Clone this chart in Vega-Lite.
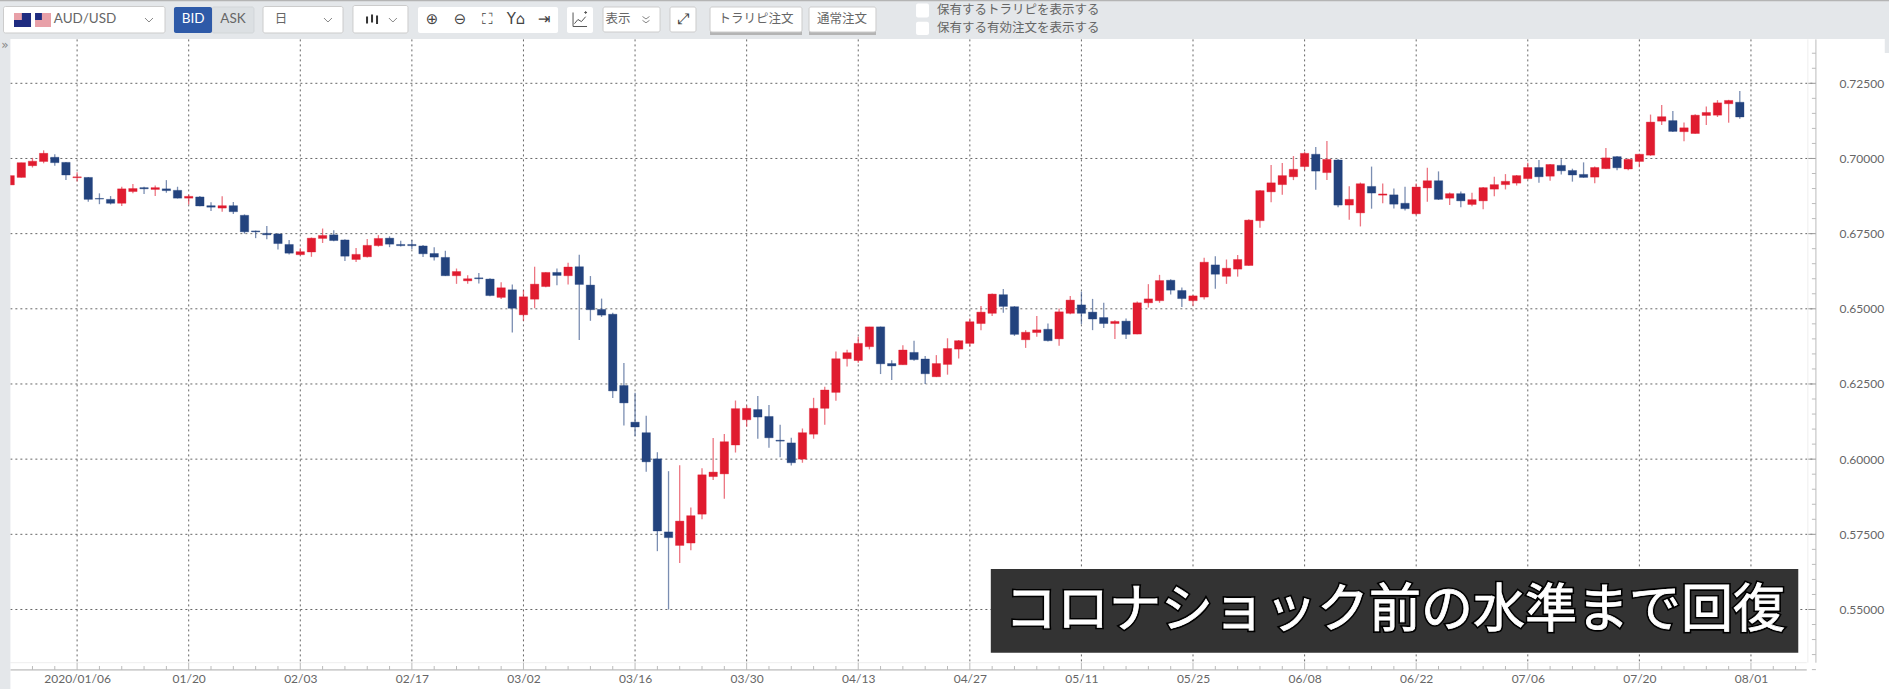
{"$schema":"https://vega.github.io/schema/vega-lite/v6.json","width":1889,"height":689,"autosize":"none","padding":0,"background":"white","config":{"view":{"stroke":null}},
"datasets":{"candles":[
{"day":0,"date":"2019-12-27","o":0.6912,"h":0.6943,"l":0.6912,"c":0.6943},{"day":1,"date":"2019-12-30","o":0.6937,"h":0.6986,"l":0.6937,"c":0.6986},{"day":2,"date":"2019-12-31","o":0.6976,"h":0.7002,"l":0.6970,"c":0.6991},{"day":3,"date":"2020-01-01","o":0.6990,"h":0.7027,"l":0.6984,"c":0.7017},{"day":4,"date":"2020-01-02","o":0.7004,"h":0.7014,"l":0.6976,"c":0.6986},
{"day":5,"date":"2020-01-03","o":0.6987,"h":0.6988,"l":0.6928,"c":0.6945},{"day":6,"date":"2020-01-06","o":0.6936,"h":0.6954,"l":0.6923,"c":0.6939},{"day":7,"date":"2020-01-07","o":0.6937,"h":0.6938,"l":0.6856,"c":0.6864},{"day":8,"date":"2020-01-08","o":0.6867,"h":0.6884,"l":0.6848,"c":0.6865},{"day":9,"date":"2020-01-09","o":0.6864,"h":0.6875,"l":0.6847,"c":0.6851},
{"day":10,"date":"2020-01-10","o":0.6851,"h":0.6906,"l":0.6842,"c":0.6899},{"day":11,"date":"2020-01-13","o":0.6890,"h":0.6915,"l":0.6884,"c":0.6900},{"day":12,"date":"2020-01-14","o":0.6903,"h":0.6906,"l":0.6882,"c":0.6899},{"day":13,"date":"2020-01-15","o":0.6897,"h":0.6910,"l":0.6875,"c":0.6903},{"day":14,"date":"2020-01-16","o":0.6899,"h":0.6928,"l":0.6886,"c":0.6893},
{"day":15,"date":"2020-01-17","o":0.6894,"h":0.6906,"l":0.6867,"c":0.6868},{"day":16,"date":"2020-01-20","o":0.6868,"h":0.6880,"l":0.6847,"c":0.6874},{"day":17,"date":"2020-01-21","o":0.6872,"h":0.6875,"l":0.6841,"c":0.6842},{"day":18,"date":"2020-01-22","o":0.6843,"h":0.6854,"l":0.6825,"c":0.6838},{"day":19,"date":"2020-01-23","o":0.6835,"h":0.6874,"l":0.6823,"c":0.6843},
{"day":20,"date":"2020-01-24","o":0.6843,"h":0.6855,"l":0.6815,"c":0.6823},{"day":21,"date":"2020-01-27","o":0.6811,"h":0.6814,"l":0.6750,"c":0.6756},{"day":22,"date":"2020-01-28","o":0.6759,"h":0.6760,"l":0.6735,"c":0.6756},{"day":23,"date":"2020-01-29","o":0.6751,"h":0.6775,"l":0.6731,"c":0.6746},{"day":24,"date":"2020-01-30","o":0.6749,"h":0.6751,"l":0.6697,"c":0.6717},
{"day":25,"date":"2020-01-31","o":0.6714,"h":0.6729,"l":0.6681,"c":0.6685},{"day":26,"date":"2020-02-03","o":0.6680,"h":0.6701,"l":0.6678,"c":0.6690},{"day":27,"date":"2020-02-04","o":0.6689,"h":0.6737,"l":0.6673,"c":0.6735},{"day":28,"date":"2020-02-05","o":0.6734,"h":0.6767,"l":0.6719,"c":0.6744},{"day":29,"date":"2020-02-06","o":0.6746,"h":0.6761,"l":0.6725,"c":0.6727},
{"day":30,"date":"2020-02-07","o":0.6729,"h":0.6731,"l":0.6659,"c":0.6675},{"day":31,"date":"2020-02-10","o":0.6664,"h":0.6702,"l":0.6656,"c":0.6681},{"day":32,"date":"2020-02-11","o":0.6673,"h":0.6732,"l":0.6671,"c":0.6711},{"day":33,"date":"2020-02-12","o":0.6710,"h":0.6745,"l":0.6707,"c":0.6734},{"day":34,"date":"2020-02-13","o":0.6735,"h":0.6741,"l":0.6705,"c":0.6715},
{"day":35,"date":"2020-02-14","o":0.6714,"h":0.6726,"l":0.6707,"c":0.6710},{"day":36,"date":"2020-02-17","o":0.6714,"h":0.6729,"l":0.6699,"c":0.6710},{"day":37,"date":"2020-02-18","o":0.6709,"h":0.6712,"l":0.6672,"c":0.6683},{"day":38,"date":"2020-02-19","o":0.6684,"h":0.6705,"l":0.6661,"c":0.6672},{"day":39,"date":"2020-02-20","o":0.6671,"h":0.6693,"l":0.6609,"c":0.6610},
{"day":40,"date":"2020-02-21","o":0.6610,"h":0.6634,"l":0.6583,"c":0.6624},{"day":41,"date":"2020-02-24","o":0.6593,"h":0.6612,"l":0.6583,"c":0.6600},{"day":42,"date":"2020-02-25","o":0.6603,"h":0.6619,"l":0.6584,"c":0.6600},{"day":43,"date":"2020-02-26","o":0.6599,"h":0.6602,"l":0.6542,"c":0.6544},{"day":44,"date":"2020-02-27","o":0.6538,"h":0.6588,"l":0.6533,"c":0.6570},
{"day":45,"date":"2020-02-28","o":0.6563,"h":0.6581,"l":0.6421,"c":0.6502},{"day":46,"date":"2020-03-02","o":0.6480,"h":0.6562,"l":0.6460,"c":0.6540},{"day":47,"date":"2020-03-03","o":0.6532,"h":0.6640,"l":0.6502,"c":0.6582},{"day":48,"date":"2020-03-04","o":0.6574,"h":0.6622,"l":0.6572,"c":0.6621},{"day":49,"date":"2020-03-05","o":0.6621,"h":0.6634,"l":0.6578,"c":0.6611},
{"day":50,"date":"2020-03-06","o":0.6610,"h":0.6653,"l":0.6581,"c":0.6639},{"day":51,"date":"2020-03-09","o":0.6640,"h":0.6680,"l":0.6396,"c":0.6581},{"day":52,"date":"2020-03-10","o":0.6579,"h":0.6609,"l":0.6460,"c":0.6497},{"day":53,"date":"2020-03-11","o":0.6498,"h":0.6534,"l":0.6473,"c":0.6479},{"day":54,"date":"2020-03-12","o":0.6482,"h":0.6487,"l":0.6203,"c":0.6227},
{"day":55,"date":"2020-03-13","o":0.6245,"h":0.6320,"l":0.6112,"c":0.6187},{"day":56,"date":"2020-03-16","o":0.6123,"h":0.6221,"l":0.6076,"c":0.6107},{"day":57,"date":"2020-03-17","o":0.6088,"h":0.6144,"l":0.5958,"c":0.5991},{"day":58,"date":"2020-03-18","o":0.6001,"h":0.6023,"l":0.5694,"c":0.5761},{"day":59,"date":"2020-03-19","o":0.5758,"h":0.5960,"l":0.5500,"c":0.5739},
{"day":60,"date":"2020-03-20","o":0.5713,"h":0.5980,"l":0.5655,"c":0.5794},{"day":61,"date":"2020-03-23","o":0.5721,"h":0.5839,"l":0.5697,"c":0.5812},{"day":62,"date":"2020-03-24","o":0.5817,"h":0.5970,"l":0.5800,"c":0.5948},{"day":63,"date":"2020-03-25","o":0.5942,"h":0.6070,"l":0.5931,"c":0.5957},{"day":64,"date":"2020-03-26","o":0.5951,"h":0.6084,"l":0.5868,"c":0.6058},
{"day":65,"date":"2020-03-27","o":0.6047,"h":0.6195,"l":0.6022,"c":0.6168},{"day":66,"date":"2020-03-30","o":0.6131,"h":0.6178,"l":0.6108,"c":0.6169},{"day":67,"date":"2020-03-31","o":0.6165,"h":0.6210,"l":0.6068,"c":0.6140},{"day":68,"date":"2020-04-01","o":0.6142,"h":0.6180,"l":0.6038,"c":0.6071},{"day":69,"date":"2020-04-02","o":0.6063,"h":0.6114,"l":0.6006,"c":0.6060},
{"day":70,"date":"2020-04-03","o":0.6054,"h":0.6071,"l":0.5979,"c":0.5988},{"day":71,"date":"2020-04-06","o":0.6000,"h":0.6102,"l":0.5988,"c":0.6088},{"day":72,"date":"2020-04-07","o":0.6083,"h":0.6204,"l":0.6068,"c":0.6169},{"day":73,"date":"2020-04-08","o":0.6169,"h":0.6241,"l":0.6114,"c":0.6230},{"day":74,"date":"2020-04-09","o":0.6222,"h":0.6358,"l":0.6194,"c":0.6334},
{"day":75,"date":"2020-04-10","o":0.6334,"h":0.6364,"l":0.6308,"c":0.6354},{"day":76,"date":"2020-04-13","o":0.6328,"h":0.6407,"l":0.6321,"c":0.6385},{"day":77,"date":"2020-04-14","o":0.6374,"h":0.6440,"l":0.6365,"c":0.6440},{"day":78,"date":"2020-04-15","o":0.6440,"h":0.6441,"l":0.6283,"c":0.6317},{"day":79,"date":"2020-04-16","o":0.6318,"h":0.6329,"l":0.6263,"c":0.6310},
{"day":80,"date":"2020-04-17","o":0.6314,"h":0.6379,"l":0.6314,"c":0.6363},{"day":81,"date":"2020-04-20","o":0.6355,"h":0.6394,"l":0.6327,"c":0.6331},{"day":82,"date":"2020-04-21","o":0.6333,"h":0.6343,"l":0.6250,"c":0.6284},{"day":83,"date":"2020-04-22","o":0.6274,"h":0.6346,"l":0.6273,"c":0.6318},{"day":84,"date":"2020-04-23","o":0.6315,"h":0.6402,"l":0.6281,"c":0.6368},
{"day":85,"date":"2020-04-24","o":0.6366,"h":0.6396,"l":0.6335,"c":0.6394},{"day":86,"date":"2020-04-27","o":0.6385,"h":0.6468,"l":0.6374,"c":0.6457},{"day":87,"date":"2020-04-28","o":0.6451,"h":0.6509,"l":0.6429,"c":0.6489},{"day":88,"date":"2020-04-29","o":0.6485,"h":0.6551,"l":0.6476,"c":0.6549},{"day":89,"date":"2020-04-30","o":0.6547,"h":0.6566,"l":0.6487,"c":0.6508},
{"day":90,"date":"2020-05-01","o":0.6507,"h":0.6509,"l":0.6410,"c":0.6415},{"day":91,"date":"2020-05-04","o":0.6397,"h":0.6429,"l":0.6370,"c":0.6422},{"day":92,"date":"2020-05-05","o":0.6421,"h":0.6476,"l":0.6407,"c":0.6430},{"day":93,"date":"2020-05-06","o":0.6432,"h":0.6451,"l":0.6391,"c":0.6394},{"day":94,"date":"2020-05-07","o":0.6400,"h":0.6501,"l":0.6377,"c":0.6490},
{"day":95,"date":"2020-05-08","o":0.6485,"h":0.6543,"l":0.6482,"c":0.6529},{"day":96,"date":"2020-05-11","o":0.6513,"h":0.6557,"l":0.6449,"c":0.6485},{"day":97,"date":"2020-05-12","o":0.6489,"h":0.6533,"l":0.6429,"c":0.6466},{"day":98,"date":"2020-05-13","o":0.6471,"h":0.6520,"l":0.6436,"c":0.6451},{"day":99,"date":"2020-05-14","o":0.6451,"h":0.6462,"l":0.6400,"c":0.6458},
{"day":100,"date":"2020-05-15","o":0.6459,"h":0.6468,"l":0.6400,"c":0.6415},{"day":101,"date":"2020-05-18","o":0.6416,"h":0.6524,"l":0.6415,"c":0.6520},{"day":102,"date":"2020-05-19","o":0.6520,"h":0.6582,"l":0.6504,"c":0.6533},{"day":103,"date":"2020-05-20","o":0.6527,"h":0.6613,"l":0.6520,"c":0.6594},{"day":104,"date":"2020-05-21","o":0.6595,"h":0.6598,"l":0.6548,"c":0.6562},
{"day":105,"date":"2020-05-22","o":0.6561,"h":0.6571,"l":0.6506,"c":0.6534},{"day":106,"date":"2020-05-25","o":0.6527,"h":0.6546,"l":0.6510,"c":0.6543},{"day":107,"date":"2020-05-26","o":0.6539,"h":0.6670,"l":0.6531,"c":0.6655},{"day":108,"date":"2020-05-27","o":0.6646,"h":0.6675,"l":0.6567,"c":0.6615},{"day":109,"date":"2020-05-28","o":0.6608,"h":0.6664,"l":0.6583,"c":0.6635},
{"day":110,"date":"2020-05-29","o":0.6632,"h":0.6679,"l":0.6607,"c":0.6664},{"day":111,"date":"2020-06-01","o":0.6644,"h":0.6798,"l":0.6643,"c":0.6795},{"day":112,"date":"2020-06-02","o":0.6793,"h":0.6895,"l":0.6770,"c":0.6893},{"day":113,"date":"2020-06-03","o":0.6889,"h":0.6978,"l":0.6854,"c":0.6919},{"day":114,"date":"2020-06-04","o":0.6913,"h":0.6985,"l":0.6879,"c":0.6943},
{"day":115,"date":"2020-06-05","o":0.6939,"h":0.7008,"l":0.6928,"c":0.6964},{"day":116,"date":"2020-06-08","o":0.6973,"h":0.7022,"l":0.6961,"c":0.7017},{"day":117,"date":"2020-06-09","o":0.7014,"h":0.7038,"l":0.6896,"c":0.6958},{"day":118,"date":"2020-06-10","o":0.6953,"h":0.7058,"l":0.6928,"c":0.6997},{"day":119,"date":"2020-06-11","o":0.6995,"h":0.6998,"l":0.6838,"c":0.6845},
{"day":120,"date":"2020-06-12","o":0.6845,"h":0.6908,"l":0.6796,"c":0.6864},{"day":121,"date":"2020-06-15","o":0.6819,"h":0.6920,"l":0.6774,"c":0.6916},{"day":122,"date":"2020-06-16","o":0.6907,"h":0.6973,"l":0.6833,"c":0.6885},{"day":123,"date":"2020-06-17","o":0.6878,"h":0.6917,"l":0.6851,"c":0.6882},{"day":124,"date":"2020-06-18","o":0.6879,"h":0.6900,"l":0.6834,"c":0.6848},
{"day":125,"date":"2020-06-19","o":0.6851,"h":0.6906,"l":0.6827,"c":0.6833},{"day":126,"date":"2020-06-22","o":0.6816,"h":0.6917,"l":0.6812,"c":0.6905},{"day":127,"date":"2020-06-23","o":0.6902,"h":0.6969,"l":0.6856,"c":0.6926},{"day":128,"date":"2020-06-24","o":0.6926,"h":0.6957,"l":0.6862,"c":0.6864},{"day":129,"date":"2020-06-25","o":0.6868,"h":0.6887,"l":0.6845,"c":0.6883},
{"day":130,"date":"2020-06-26","o":0.6883,"h":0.6890,"l":0.6838,"c":0.6859},{"day":131,"date":"2020-06-29","o":0.6847,"h":0.6886,"l":0.6841,"c":0.6863},{"day":132,"date":"2020-06-30","o":0.6859,"h":0.6905,"l":0.6831,"c":0.6903},{"day":133,"date":"2020-07-01","o":0.6898,"h":0.6939,"l":0.6874,"c":0.6913},{"day":134,"date":"2020-07-02","o":0.6913,"h":0.6948,"l":0.6897,"c":0.6924},
{"day":135,"date":"2020-07-03","o":0.6918,"h":0.6945,"l":0.6910,"c":0.6943},{"day":136,"date":"2020-07-06","o":0.6933,"h":0.6986,"l":0.6930,"c":0.6970},{"day":137,"date":"2020-07-07","o":0.6970,"h":0.6995,"l":0.6919,"c":0.6939},{"day":138,"date":"2020-07-08","o":0.6941,"h":0.6982,"l":0.6926,"c":0.6980},{"day":139,"date":"2020-07-09","o":0.6977,"h":0.6997,"l":0.6947,"c":0.6959},
{"day":140,"date":"2020-07-10","o":0.6960,"h":0.6966,"l":0.6923,"c":0.6945},{"day":141,"date":"2020-07-13","o":0.6947,"h":0.6987,"l":0.6936,"c":0.6937},{"day":142,"date":"2020-07-14","o":0.6938,"h":0.6973,"l":0.6918,"c":0.6970},{"day":143,"date":"2020-07-15","o":0.6966,"h":0.7035,"l":0.6965,"c":0.7002},{"day":144,"date":"2020-07-16","o":0.7006,"h":0.7008,"l":0.6961,"c":0.6969},
{"day":145,"date":"2020-07-17","o":0.6965,"h":0.6999,"l":0.6961,"c":0.6997},{"day":146,"date":"2020-07-20","o":0.6990,"h":0.7016,"l":0.6971,"c":0.7014},{"day":147,"date":"2020-07-21","o":0.7011,"h":0.7146,"l":0.7009,"c":0.7121},{"day":148,"date":"2020-07-22","o":0.7124,"h":0.7178,"l":0.7111,"c":0.7139},{"day":149,"date":"2020-07-23","o":0.7126,"h":0.7158,"l":0.7088,"c":0.7090},
{"day":150,"date":"2020-07-24","o":0.7089,"h":0.7120,"l":0.7057,"c":0.7102},{"day":151,"date":"2020-07-27","o":0.7083,"h":0.7147,"l":0.7082,"c":0.7144},{"day":152,"date":"2020-07-28","o":0.7143,"h":0.7173,"l":0.7111,"c":0.7153},{"day":153,"date":"2020-07-29","o":0.7144,"h":0.7194,"l":0.7138,"c":0.7185},{"day":154,"date":"2020-07-30","o":0.7182,"h":0.7195,"l":0.7119,"c":0.7193},
{"day":155,"date":"2020-07-31","o":0.7187,"h":0.7224,"l":0.7132,"c":0.7138}],
"majorDays":[{"day":6},{"day":16},{"day":26},{"day":36},{"day":46},{"day":56},{"day":66},{"day":76},{"day":86},{"day":96},{"day":106},{"day":116},{"day":126},{"day":136},{"day":146},{"day":156}],
"minorDays":[{"day":2},{"day":4},{"day":8},{"day":10},{"day":12},{"day":14},{"day":18},{"day":20},{"day":22},{"day":24},{"day":28},{"day":30},{"day":32},{"day":34},{"day":38},{"day":40},{"day":42},{"day":44},{"day":48},{"day":50},{"day":52},{"day":54},{"day":58},{"day":60},{"day":62},{"day":64},{"day":68},{"day":70},{"day":72},{"day":74},{"day":78},{"day":80},{"day":82},{"day":84},{"day":88},{"day":90},{"day":92},{"day":94},{"day":98},{"day":100},{"day":102},{"day":104},{"day":108},{"day":110},{"day":112},{"day":114},{"day":118},{"day":120},{"day":122},{"day":124},{"day":128},{"day":130},{"day":132},{"day":134},{"day":138},{"day":140},{"day":142},{"day":144},{"day":148},{"day":150},{"day":152},{"day":154},{"day":158},{"day":160}],
"majorPrices":[{"price":0.55},{"price":0.575},{"price":0.6},{"price":0.625},{"price":0.65},{"price":0.675},{"price":0.7},{"price":0.725}],
"minorPrices":[{"price":0.53},{"price":0.535},{"price":0.54},{"price":0.545},{"price":0.555},{"price":0.56},{"price":0.565},{"price":0.57},{"price":0.58},{"price":0.585},{"price":0.59},{"price":0.595},{"price":0.605},{"price":0.61},{"price":0.615},{"price":0.62},{"price":0.63},{"price":0.635},{"price":0.64},{"price":0.645},{"price":0.655},{"price":0.66},{"price":0.665},{"price":0.67},{"price":0.68},{"price":0.685},{"price":0.69},{"price":0.695},{"price":0.705},{"price":0.71},{"price":0.715},{"price":0.72},{"price":0.73},{"price":0.735}]},
"layer":[
{"data":{"name":"majorDays"},"mark":{"type":"rule","color":"#666666","strokeDash":[2,3],"strokeWidth":1},"encoding":{"x":{"field":"day","type":"quantitative"},"y":{"datum":0.7396,"type":"quantitative"},"y2":{"datum":0.5323}}},
{"data":{"name":"majorPrices"},"mark":{"type":"rule","color":"#666666","strokeDash":[2,3],"strokeWidth":1},"encoding":{"y":{"field":"price","type":"quantitative"},"x":{"datum":0.02,"type":"quantitative"},"x2":{"datum":161.82}}},
{"data":{"name":"minorPrices"},"mark":{"type":"rule","color":"#BBBBBB","strokeWidth":1},"encoding":{"y":{"field":"price","type":"quantitative"},"x":{"datum":161.46,"type":"quantitative"},"x2":{"datum":161.82}}},
{"data":{"name":"majorPrices"},"mark":{"type":"rule","color":"#999999","strokeWidth":1},"encoding":{"y":{"field":"price","type":"quantitative"},"x":{"datum":161.1,"type":"quantitative"},"x2":{"datum":161.82}}},
{"data":{"values":[{"day":161.1}]},"mark":{"type":"rule","color":"#EEEEEE","strokeWidth":1},"encoding":{"x":{"field":"day","type":"quantitative"},"y":{"datum":0.7396,"type":"quantitative"},"y2":{"datum":0.5323}}},
{"data":{"values":[{"day":161.82}]},"mark":{"type":"rule","color":"#BBBBBB","strokeWidth":1},"encoding":{"x":{"field":"day","type":"quantitative"},"y":{"datum":0.7396,"type":"quantitative"},"y2":{"datum":0.5323}}},
{"data":{"values":[{"price":0.5323}]},"mark":{"type":"rule","color":"#EEEEEE","strokeWidth":1},"encoding":{"y":{"field":"price","type":"quantitative"},"x":{"datum":0.02,"type":"quantitative"},"x2":{"datum":161.0}}},
{"data":{"values":[{"price":0.5299}]},"mark":{"type":"rule","color":"#AAAAAA","strokeWidth":1},"encoding":{"y":{"field":"price","type":"quantitative"},"x":{"datum":0.02,"type":"quantitative"},"x2":{"datum":161.0}}},
{"data":{"name":"minorDays"},"mark":{"type":"rule","color":"#BBBBBB","strokeWidth":1},"encoding":{"x":{"field":"day","type":"quantitative"},"y":{"datum":0.5312,"type":"quantitative"},"y2":{"datum":0.5299}}},
{"data":{"name":"majorDays"},"mark":{"type":"rule","color":"#BBBBBB","strokeWidth":1},"encoding":{"x":{"field":"day","type":"quantitative"},"y":{"datum":0.5323,"type":"quantitative"},"y2":{"datum":0.5299}}},
{"data":{"name":"candles"},"mark":{"type":"rule","strokeWidth":1.3,"opacity":0.6},"encoding":{
"x":{"field":"day","type":"quantitative","scale":{"domain":[-0.9096,168.37],"nice":false,"zero":false,"padding":0},"axis":{"title":null,"orient":"bottom","offset":-19,"grid":false,"domain":false,"ticks":false,"values":[6,16,26,36,46,56,66,76,86,96,106,116,126,136,146,156],"labelExpr":"{'6':'2020/01/06','16':'01/20','26':'02/03','36':'02/17','46':'03/02','56':'03/16','66':'03/30','76':'04/13','86':'04/27','96':'05/11','106':'05/25','116':'06/08','126':'06/22','136':'07/06','146':'07/20','156':'08/01'}[datum.value]","labelFont":"Lato","labelFontSize":12,"labelColor":"#666666","labelPadding":3,"labelOverlap":false,"labelBound":false,"labelFlush":false}},
"y":{"field":"l","type":"quantitative","scale":{"domain":[0.523557,0.752704],"nice":false,"zero":false},"axis":{"title":null,"orient":"right","offset":-73,"grid":false,"domain":false,"ticks":false,"values":[0.55,0.575,0.6,0.625,0.65,0.675,0.7,0.725],"format":".5f","labelFont":"Lato","labelFontSize":12,"labelColor":"#666666","labelPadding":23,"labelOverlap":false,"labelBound":false,"labelFlush":false}},
"y2":{"field":"h"},
"color":{"condition":{"test":"datum.c>=datum.o","value":"#E01B2F"},"value":"#23437E"}}},
{"data":{"name":"candles"},"mark":{"type":"bar","width":8.4,"strokeWidth":1,"strokeOpacity":0.35},"encoding":{
"x":{"field":"day","type":"quantitative"},"y":{"field":"o","type":"quantitative"},"y2":{"field":"c"},
"color":{"condition":{"test":"datum.c>=datum.o","value":"#E01B2F"},"value":"#23437E"},
"stroke":{"condition":{"test":"datum.c>=datum.o","value":"#E01B2F"},"value":"#23437E"}}},
{"data":{"values":[{"day":-0.9096,"day2":168.37,"price":0.752704,"price2":0.73973},{"day":-0.9096,"day2":0.0224,"price":0.73973,"price2":0.523557},{"day":167.99,"day2":168.37,"price":0.73973,"price2":0.73508}]},"mark":{"type":"rect","color":"#E4E7EA"},"encoding":{"x":{"field":"day","type":"quantitative"},"x2":{"field":"day2"},"y":{"field":"price","type":"quantitative"},"y2":{"field":"price2"}}},
{"data":{"values":[{"day":18.09,"day2":21.85,"price":0.75038,"price2":0.74173}]},"mark":{"type":"rect","fill":"#DCE0E3","stroke":"#D2D6D9","strokeWidth":1,"cornerRadius":2},"encoding":{"x":{"field":"day","type":"quantitative"},"x2":{"field":"day2"},"y":{"field":"price","type":"quantitative"},"y2":{"field":"price2"}}},
{"data":{"values":[{"day":-0.9096,"day2":168.37,"price":0.752704,"price2":0.7523},{"day":62.72,"day2":70.96,"price":0.7425,"price2":0.74106},{"day":71.59,"day2":77.59,"price":0.7425,"price2":0.74106}]},"mark":{"type":"rect","color":"#B4B4B4"},"encoding":{"x":{"field":"day","type":"quantitative"},"x2":{"field":"day2"},"y":{"field":"price","type":"quantitative"},"y2":{"field":"price2"}}},
{"data":{"values":[{"day":-0.596,"day2":13.877,"price":0.75054,"price2":0.74173},{"day":22.66,"day2":29.83,"price":0.75054,"price2":0.74173},{"day":30.72,"day2":35.65,"price":0.75087,"price2":0.74173},{"day":53.13,"day2":58.24,"price":0.75038,"price2":0.74206},{"day":59.13,"day2":61.46,"price":0.75038,"price2":0.74206},{"day":62.72,"day2":70.96,"price":0.75038,"price2":0.74206},{"day":71.59,"day2":77.59,"price":0.75038,"price2":0.74206}]},"mark":{"type":"rect","fill":"white","stroke":"#CCCCCC","strokeWidth":1,"cornerRadius":2},"encoding":{"x":{"field":"day","type":"quantitative"},"x2":{"field":"day2"},"y":{"field":"price","type":"quantitative"},"y2":{"field":"price2"}}},
{"data":{"values":[{"day":36.55,"day2":49.1,"price":0.75038,"price2":0.74173},{"day":49.9,"day2":52.23,"price":0.75038,"price2":0.74173},{"day":81.18,"day2":82.34,"price":0.75154,"price2":0.74688},{"day":81.18,"day2":82.34,"price":0.74549,"price2":0.74106}]},"mark":{"type":"rect","fill":"white","cornerRadius":2},"encoding":{"x":{"field":"day","type":"quantitative"},"x2":{"field":"day2"},"y":{"field":"price","type":"quantitative"},"y2":{"field":"price2"}}},
{"data":{"values":[{"day":14.68,"day2":18.09,"price":0.75038,"price2":0.74173}]},"mark":{"type":"rect","fill":"#2E5AA8","cornerRadius":2},"encoding":{"x":{"field":"day","type":"quantitative"},"x2":{"field":"day2"},"y":{"field":"price","type":"quantitative"},"y2":{"field":"price2"}}},
{"data":{"values":[{"day":0.345,"day2":1.87,"price":0.74838,"price2":0.74372},{"day":2.23,"day2":2.85,"price":0.74838,"price2":0.74605}]},"mark":{"type":"rect","fill":"#1F2C80"},"encoding":{"x":{"field":"day","type":"quantitative"},"x2":{"field":"day2"},"y":{"field":"price","type":"quantitative"},"y2":{"field":"price2"}}},
{"data":{"values":[{"day":2.85,"day2":3.66,"price":0.74838,"price2":0.74605},{"day":2.23,"day2":3.66,"price":0.74605,"price2":0.74372},{"day":0.345,"day2":1.05,"price":0.74838,"price2":0.74605}]},"mark":{"type":"rect","fill":"#E8A0A8"},"encoding":{"x":{"field":"day","type":"quantitative"},"x2":{"field":"day2"},"y":{"field":"price","type":"quantitative"},"y2":{"field":"price2"}}},
{"data":{"values":[{"day":6.71,"price":0.74622,"label":"AUD/USD"},{"day":19.97,"price":0.74622,"label":"ASK"}]},"mark":{"type":"text","font":"Lato","fontSize":13.5,"color":"#666666"},"encoding":{"x":{"field":"day","type":"quantitative"},"y":{"field":"price","type":"quantitative"},"text":{"field":"label"}}},
{"data":{"values":[{"day":16.39,"price":0.74622,"label":"BID"}]},"mark":{"type":"text","font":"Lato","fontSize":13.5,"color":"#FFFFFF"},"encoding":{"x":{"field":"day","type":"quantitative"},"y":{"field":"price","type":"quantitative"},"text":{"field":"label"}}},
{"data":{"values":[{"day":24.27,"price":0.74622,"label":"日"},{"day":54.47,"price":0.74622,"label":"表示"},{"day":66.84,"price":0.74655,"label":"トラリピ注文"},{"day":74.54,"price":0.74655,"label":"通常注文"},{"day":90.33,"price":0.74938,"label":"保有するトラリピを表示する"},{"day":90.33,"price":0.74339,"label":"保有する有効注文を表示する"}]},"mark":{"type":"text","font":"Noto Sans CJK JP","fontSize":12.5,"color":"#666666"},"encoding":{"x":{"field":"day","type":"quantitative"},"y":{"field":"price","type":"quantitative"},"text":{"field":"label"}}},
{"data":{"values":[{"day":37.8,"price":0.74622,"label":"⊕"},{"day":40.31,"price":0.74622,"label":"⊖"},{"day":42.82,"price":0.74622,"label":"⛶"},{"day":45.33,"price":0.74622,"label":"Y⌂"},{"day":47.84,"price":0.74622,"label":"⇥"},{"day":60.3,"price":0.74622,"label":"⤢"}]},"mark":{"type":"text","font":"DejaVu Sans","fontSize":15,"color":"#444444"},"encoding":{"x":{"field":"day","type":"quantitative"},"y":{"field":"price","type":"quantitative"},"text":{"field":"label"}}},
{"data":{"values":[{"day":-0.46,"price":0.73774,"label":"»"}]},"mark":{"type":"text","font":"DejaVu Sans","fontSize":12,"color":"#888888"},"encoding":{"x":{"field":"day","type":"quantitative"},"y":{"field":"price","type":"quantitative"},"text":{"field":"label"}}},
{"data":{"values":[{"day":12.44,"price":0.74605},{"day":28.48,"price":0.74605},{"day":34.3,"price":0.74605}]},"mark":{"type":"point","shape":"M-1,-0.5L0,0.5L1,-0.5","size":64,"filled":false,"stroke":"#888888","strokeWidth":1,"opacity":1},"encoding":{"x":{"field":"day","type":"quantitative"},"y":{"field":"price","type":"quantitative"}}},
{"data":{"values":[{"day":56.98,"price":0.74605}]},"mark":{"type":"point","shape":"M-1,-1L0,-0.3L1,-1M-1,0.1L0,0.8L1,0.1","size":49,"filled":false,"stroke":"#888888","strokeWidth":1,"opacity":1},"encoding":{"x":{"field":"day","type":"quantitative"},"y":{"field":"price","type":"quantitative"}}},
{"data":{"values":[{"day":32.43,"price":0.74622}]},"mark":{"type":"point","shape":"M-1,-0.6V0.8M0,-1V0.6M1,-0.8V0.9","size":100,"filled":false,"stroke":"#333333","strokeWidth":2,"opacity":1},"encoding":{"x":{"field":"day","type":"quantitative"},"y":{"field":"price","type":"quantitative"}}},
{"data":{"values":[{"day":51.07,"price":0.74622}]},"mark":{"type":"point","shape":"M-1,-1V1H1M-0.8,0.6L-0.3,0L0.2,0.3L0.8,-0.4M0.6,-1H1M0.8,-1.2V-0.8","size":196,"filled":false,"stroke":"#555555","strokeWidth":1,"opacity":1},"encoding":{"x":{"field":"day","type":"quantitative"},"y":{"field":"price","type":"quantitative"}}},
{"data":{"values":[{"day":87.88,"day2":160.24,"price":0.56347,"price2":0.53563}]},"mark":{"type":"rect","fill":"#333333"},"encoding":{"x":{"field":"day","type":"quantitative"},"x2":{"field":"day2"},"y":{"field":"price","type":"quantitative"},"y2":{"field":"price2"}}},
{"data":{"values":[{"day":124.1,"price":0.5496,"label":"コロナショック前の水準まで回復"}]},"mark":{"type":"text","font":"Noto Sans CJK JP","fontSize":52,"fill":"#000000","stroke":"#000000","strokeWidth":4},"encoding":{"x":{"field":"day","type":"quantitative"},"y":{"field":"price","type":"quantitative"},"text":{"field":"label"}}},
{"data":{"values":[{"day":124.1,"price":0.5496,"label":"コロナショック前の水準まで回復"}]},"mark":{"type":"text","font":"Noto Sans CJK JP","fontSize":52,"fill":"#FFFFFF","stroke":"#FFFFFF","strokeWidth":0.8},"encoding":{"x":{"field":"day","type":"quantitative"},"y":{"field":"price","type":"quantitative"},"text":{"field":"label"}}}
]}
